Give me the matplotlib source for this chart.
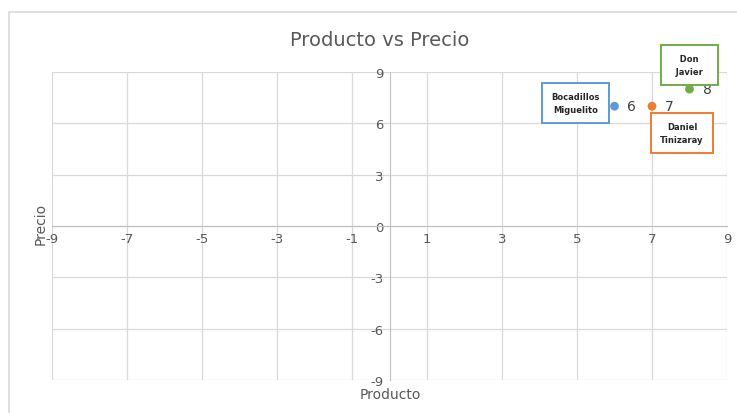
import numpy as np
import matplotlib.pyplot as plt
from matplotlib.patches import Rectangle

plt.rcParams['axes.unicode_minus'] = False

# data
names = ['Bocadillos\nMiguelito', 'Daniel\nTinizaray', 'Don\nJavier']
producto = [6, 7, 8]
precio = [7, 7, 8]
colors = ['#5b9bd5', '#ed7d31', '#70ad47']
xticks = [-9, -7, -5, -3, -1, 1, 3, 5, 7, 9]
yticks = [-9, -6, -3, 0, 3, 6, 9]

grey = '#d9d9d9'
txt = '#595959'

fig = plt.figure(figsize=(7.37, 4.14), dpi=100)
ax = fig.add_axes([52/737, 1 - 381/414, 675/737, 308/414])

# outer chart frame (partly cut off in the original)
fig.patches.append(Rectangle((9/737, -0.1), 1.1, 1 - 13/414 + 0.1,
                             transform=fig.transFigure, fill=False,
                             edgecolor='#d9d9d9', lw=1.2))

ax.set_xlim(-9, 9)
ax.set_ylim(-9, 9)
ax.set_xticks(xticks)
ax.set_yticks(yticks)
ax.grid(True, color=grey, lw=0.9)
ax.set_axisbelow(True)

for s in ['top', 'right']:
    ax.spines[s].set_visible(False)
ax.spines['left'].set_position('zero')
ax.spines['bottom'].set_position('zero')
ax.spines['left'].set_color('#bfbfbf')
ax.spines['bottom'].set_color('#bfbfbf')
ax.tick_params(length=0, labelsize=9.5, colors=txt, pad=4)

ax.scatter(producto, precio, c=colors, s=40, zorder=3, edgecolors='none')

# data labels
for x, y in zip(producto, precio):
    ax.annotate(str(x), (x, y), xytext=(13, 0), textcoords='offset pixels',
                ha='left', va='center', fontsize=10, color='#404040')

# name boxes
offsets = [(-39, 3), (30, -27), (0, 24)]
widen = [0, 0, 2]
for name, x, y, c, off, w in zip(names, producto, precio, colors, offsets, widen):
    sp = '\u00a0' * w
    label = '\n'.join(sp + line + sp for line in name.split('\n'))
    ax.annotate(label, (x, y), xytext=off, textcoords='offset pixels',
                ha='center', va='center', fontsize=6, fontweight='bold',
                color='#262626', linespacing=1.6,
                bbox=dict(boxstyle='square,pad=1.1', fc='white', ec=c, lw=1.4))

fig.text(380/737, 1 - 40/414, 'Producto vs Precio', ha='center', va='center',
         fontsize=14, color=txt)
fig.text(390/737, 1 - 395/414, 'Producto', ha='center', va='center',
         fontsize=10, color=txt)
fig.text(41/737, 1 - 224/414, 'Precio', ha='center', va='center',
         fontsize=10, color=txt, rotation=90)

fig.savefig('out.png', dpi=100)
